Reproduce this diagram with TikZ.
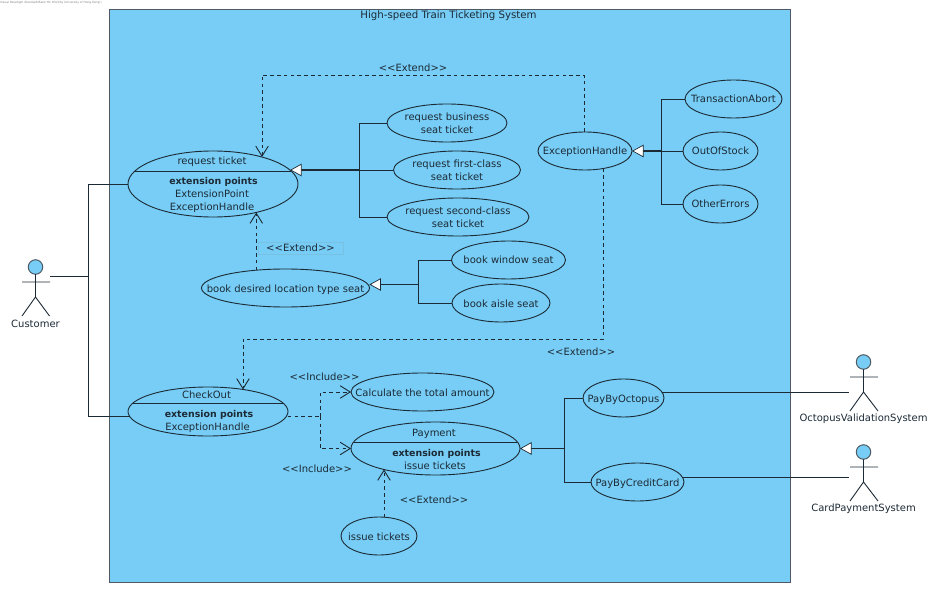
\documentclass[tikz,border=0pt]{standalone}
\usepackage{fontspec}
\setmainfont{DejaVu Sans}
\usetikzlibrary{shapes.geometric,arrows.meta}
\definecolor{sysblue}{HTML}{77CDF5}
\definecolor{ink}{HTML}{1C2A36}
\definecolor{framec}{HTML}{4F5B64}
\tikzset{
  x=1pt,y=-1pt,
  every node/.style={font=\fontsize{10}{13}\selectfont,text=ink,inner sep=0pt},
  every label/.style={font=\fontsize{10}{13}\selectfont,text=ink,inner sep=0pt,align=center},
  uc/.style={ellipse,draw=ink,line width=0.9pt,fill=sysblue,inner sep=0pt,outer sep=0pt},
  one/.style={text height=9pt,text depth=1pt},
  lab/.style={label={[one]center:#1}},
  boldtxt/.style={one,font=\fontsize{9.4}{13}\selectfont\bfseries},
  cnx/.style={draw=ink,line width=0.9pt},
  trunk/.style={draw=ink,line width=1.3pt,-{Triangle[open,fill=white,length=11.5pt,width=12.5pt,line width=0.7pt]}},
  dep/.style={draw=ink,line width=0.9pt,dash pattern=on 3.6pt off 3.2pt},
  depa/.style={dep,-{Straight Barb[length=10pt,width=12.5pt,line width=0.9pt]}},
  actorlimb/.style={draw=ink,line width=0.9pt},
  head/.style={circle,draw=framec,line width=1pt,fill=sysblue,minimum size=14.5pt,inner sep=0pt,outer sep=0pt},
}
\begin{document}
\begin{tikzpicture}
\useasboundingbox (0,0) rectangle (941,593);
% system boundary
\node[draw=framec,line width=1.1pt,fill=sysblue,minimum width=681pt,minimum height=573pt,anchor=north west] (sys) at (109,9) {};
\node[font=\fontsize{2.9}{3}\selectfont,text=gray,anchor=west] (wm) at (0,3) {Visual Paradigm Standard(Bank Ho Hin(City University of Hong Kong))};
\node[one,font=\fontsize{10.2}{13}\selectfont] (title) at (448.5,15) {High-speed Train Ticketing System};

% use cases
\node[uc,minimum width=170pt,minimum height=66pt] (req) at (213,184) {};
\node[uc,minimum width=120pt,minimum height=38pt,label={center:request business\\seat ticket}] (bus) at (447,123) {};
\node[uc,minimum width=127pt,minimum height=38pt,label={center:request first-class\\seat ticket}] (fst) at (457,170) {};
\node[uc,minimum width=142pt,minimum height=38pt,label={center:request second-class\\seat ticket}] (sec) at (458,217) {};
\node[uc,minimum width=114pt,minimum height=38pt,lab={book window seat}] (win) at (508.5,260) {};
\node[uc,minimum width=98pt,minimum height=38pt,lab={book aisle seat}] (ais) at (501,303) {};
\node[uc,minimum width=168pt,minimum height=38pt,lab={book desired location type seat}] (loc) at (285.5,288) {};
\node[uc,minimum width=94pt,minimum height=38pt,lab={ExceptionHandle}] (exc) at (585,151) {};
\node[uc,minimum width=97pt,minimum height=38pt,lab={TransactionAbort}] (abo) at (733.5,99) {};
\node[uc,minimum width=75pt,minimum height=38pt,lab={OutOfStock}] (oos) at (720.5,151) {};
\node[uc,minimum width=75pt,minimum height=38pt,lab={OtherErrors}] (oth) at (720.5,204) {};
\node[uc,minimum width=160pt,minimum height=49pt] (chk) at (208,411.5) {};
\node[uc,minimum width=143pt,minimum height=38pt,lab={Calculate the total amount}] (cal) at (422.5,392) {};
\node[uc,minimum width=169pt,minimum height=53pt] (pay) at (435.5,448.5) {};
\node[uc,minimum width=76pt,minimum height=38pt,lab={issue tickets}] (iss) at (379,536) {};
\node[uc,minimum width=81pt,minimum height=38pt,lab={PayByOctopus}] (pbo) at (623.5,398) {};
\node[uc,minimum width=93pt,minimum height=38pt,lab={PayByCreditCard}] (pbc) at (637.5,482) {};

% compartments
\draw[cnx,line width=0.8pt] ([shift={(-78.1,-13)}]req.center) -- ([shift={(78.1,-13)}]req.center);
\node[one] (reqt) at (212,160.5) {request ticket};
\node[boldtxt] (reqx) at (213.5,181) {extension points};
\node[one] (reqa) at (212,194) {ExtensionPoint};
\node[one] (reqb) at (212,207) {ExceptionHandle};
\draw[cnx,line width=0.8pt] ([shift={(-75,-8.5)}]chk.center) -- ([shift={(75,-8.5)}]chk.center);
\node[one] (chkt) at (206.5,394) {CheckOut};
\node[boldtxt] (chkx) at (209,413) {extension points};
\node[one] (chkb) at (207.5,426) {ExceptionHandle};
\draw[cnx,line width=0.8pt] ([shift={(-81.9,-6.5)}]pay.center) -- ([shift={(81.9,-6.5)}]pay.center);
\node[one] (payt) at (434,432) {Payment};
\node[boldtxt] (payx) at (436.5,452.5) {extension points};
\node[one] (payb) at (435,465.5) {issue tickets};

% actors
\node[head] (ah) at (35.5,267) {};
\coordinate (aB) at (35.5,297);
\coordinate (aL) at (22,282);
\coordinate (aR) at (50,282);
\coordinate (aF) at (22,316);
\coordinate (aG) at (49.5,316);
\draw[actorlimb] (ah) -- (aB) -- (aF) (aB) -- (aG) (aL) -- (aR);
\node[one] (alab) at (35.5,323) {Customer};

\node[head] (oh) at (863.5,362) {};
\coordinate (oB) at (863.5,392);
\coordinate (oL) at (850,377);
\coordinate (oR) at (878,377);
\coordinate (oF) at (850,411);
\coordinate (oG) at (878,411);
\draw[actorlimb] (oh) -- (oB) -- (oF) (oB) -- (oG) (oL) -- (oR);
\node[one] (olab) at (863.5,417.5) {OctopusValidationSystem};

\node[head] (ch) at (863.5,452) {};
\coordinate (cB) at (863.5,482);
\coordinate (cL) at (850,467);
\coordinate (cR) at (878,467);
\coordinate (cF) at (850,501);
\coordinate (cG) at (878,501);
\draw[actorlimb] (ch) -- (cB) -- (cF) (cB) -- (cG) (cL) -- (cR);
\node[one] (clab) at (863.5,507.5) {CardPaymentSystem};

% associations
\coordinate (cu) at (50,276);
\coordinate (cv) at (88,276);
\draw[cnx] (cu) -- (cv);
\coordinate (ca) at ([shift={(-78.2,5.2)}]chk.center);
\draw[cnx] (req.west) -- (req.west -| cv) -- (ca -| cv) -- (ca);
\coordinate (ou) at (849,392);
\coordinate (pu) at (849,477);
\draw[cnx] ([shift={(38.4,-6)}]pbo.center) -- (ou);
\draw[cnx] ([shift={(44.9,-5)}]pbc.center) -- (pu);

% generalisations
\coordinate (j1) at (359,170);
\draw[cnx] (bus.west) -- (bus.west -| j1) -- (sec.west -| j1) -- (sec.west);
\draw[cnx] (fst.west) -- (j1);
\draw[trunk] (j1) -- ([shift={(77.1,-14)}]req.center);
\coordinate (j2) at (418.5,284.5);
\draw[cnx] (win.west) -- (win.west -| j2) -- (ais.west -| j2) -- (ais.west);
\draw[trunk] (j2) -- ([shift={(83.9,-3.5)}]loc.center);
\coordinate (j3) at (661.5,151);
\draw[cnx] (abo.west) -- (abo.west -| j3) -- (oth.west -| j3) -- (oth.west);
\draw[cnx] (oos.west) -- (j3);
\draw[trunk] (j3) -- (exc.east);
\coordinate (j4) at (564,448.5);
\draw[cnx] (pbo.west) -- (pbo.west -| j4) -- (pbc.west -| j4) -- (pbc.west);
\draw[trunk] (j4) -- (pay.east);

% extend / include
\coordinate (e1) at (262,75);
\coordinate (e1s) at ([shift={(-1,-19)}]exc.center);
\draw[depa] (e1s) -- (e1s |- e1) -- (e1) -- ([shift={(49,-27)}]req.center);
\draw[depa] ([shift={(-29.2,-17.8)}]loc.center) -- ([shift={(43.3,28.5)}]req.center);
\coordinate (e2) at (243,339);
\coordinate (e2s) at ([shift={(18.3,17.5)}]exc.center);
\draw[depa] (e2s) -- (e2s |- e2) -- (e2) -- ([shift={(35,-22)}]chk.center);
\coordinate (i0) at (320,416.7);
\draw[dep] ([shift={(79.8,5.2)}]chk.center) -- (i0);
\draw[depa] (i0) -- (i0 |- cal.west) -- (cal.west);
\draw[depa] (i0) -- (i0 |- pay.west) -- (pay.west);
\draw[depa] ([shift={(5,-18.8)}]iss.center) -- ([shift={(-51.5,21)}]pay.center);

% connector labels
\node[one] (l1) at (413,68) {<{}<Extend>{}>};
\node[one,draw=sysblue!85!gray,line width=0.4pt,minimum width=85pt,minimum height=12.5pt] (l2) at (300.5,248) {<{}<Extend>{}>};
\node[one] (l3) at (581,351) {<{}<Extend>{}>};
\node[one] (l4) at (324.5,376) {<{}<Include>{}>};
\node[one] (l5) at (317,468) {<{}<Include>{}>};
\node[one] (l6) at (434,499) {<{}<Extend>{}>};
\end{tikzpicture}
\end{document}
